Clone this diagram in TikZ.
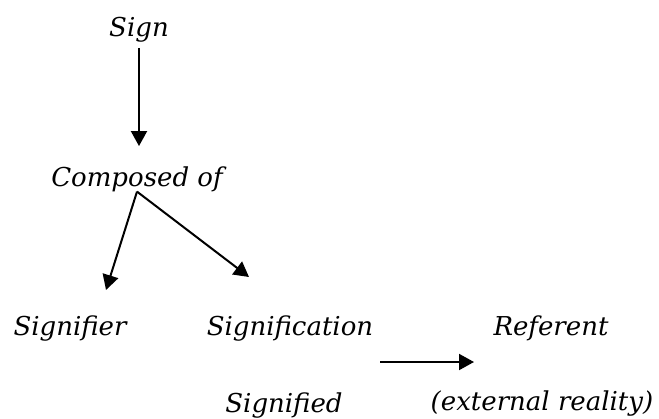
\documentclass[tikz,border=0pt]{standalone}
\usepackage{fontspec}
\setmainfont{DejaVu Serif}
\usetikzlibrary{arrows.meta}

\begin{document}
\begin{tikzpicture}[
    x=1pt, y=-1pt,
    lbl/.style={anchor=base, inner sep=0pt, font=\itshape\fontsize{26}{30}\selectfont},
    arr/.style={-{Triangle[length=15pt,width=16pt]}, line width=2pt}
]
\useasboundingbox (0,0) rectangle (659,418);
\node[lbl] (sign) at (139,36) {Sign};
\node[lbl] (comp) at (137,186) {Composed of};
\node[lbl] (sfr) at (70,335) {Signifier};
\node[lbl] (sfc) at (290,335) {Signification};
\node[lbl] (sfd) at (284,412) {Signified};
\node[lbl] (ref) at (551,335) {Referent};
\node[lbl] (ext) at (542,410) {(external reality)};

% free ends of the fork and of the link
\coordinate (tipl) at (106,290);
\coordinate (tipr) at (249,277);
\coordinate (linka) at (380,362);
\coordinate (linkb) at (474,362);

\draw[arr, shorten <=6pt, shorten >=20pt] (sign.south) -- (sign.south |- comp.north);
\draw[arr] (comp.south) -- (tipl);
\draw[arr] (comp.south) -- (tipr);
\draw[arr] (linka) -- (linkb);
\end{tikzpicture}
\end{document}
